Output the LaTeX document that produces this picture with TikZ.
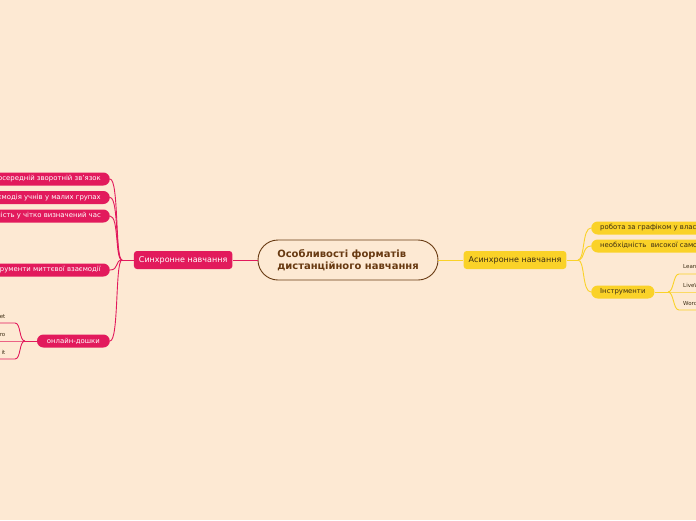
\documentclass[tikz,border=0pt]{standalone}
\usepackage{fontspec}
\setmainfont{DejaVu Sans}
\usetikzlibrary{positioning}
\definecolor{bgpeach}{RGB}{253,233,211}
\definecolor{synccol}{RGB}{226,26,92}
\definecolor{asynccol}{RGB}{250,210,40}
\definecolor{titlecol}{RGB}{104,58,18}
\definecolor{darktxt}{RGB}{60,45,20}
\begin{document}
\begin{tikzpicture}[
  x=1pt, y=-1pt,
  font=\fontsize{6.9}{7.5}\selectfont,
  node distance=25pt,
  title/.style={draw=titlecol, line width=0.9pt, fill=bgpeach,
                rounded corners=20pt, minimum width=180pt, minimum height=40pt,
                align=left, text=titlecol,
                font=\fontsize{10}{12}\selectfont\bfseries},
  mainbox/.style={rounded corners=3pt, minimum height=18pt, inner xsep=5pt,
                  font=\fontsize{8}{9}\selectfont},
  syncbox/.style={mainbox, fill=synccol, text=white},
  asyncbox/.style={mainbox, fill=asynccol, text=darktxt},
  pill/.style={rounded corners=6.5pt, minimum height=13pt, inner xsep=9pt,
               inner ysep=0pt},
  spill/.style={pill, fill=synccol, text=white},
  apill/.style={pill, fill=asynccol, text=darktxt},
  leaf/.style={inner xsep=4pt, inner ysep=4.5pt, text=darktxt,
               font=\fontsize{5.5}{6.5}\selectfont},
  slink/.style={draw=synccol, line width=0.9pt},
  alink/.style={draw=asynccol, line width=0.9pt}
]
\useasboundingbox[fill=bgpeach] (0,0) rectangle (696,520);
\clip (0,0) rectangle (696,520);

% centre and the two main branches
\node[title] (title) at (348,260) {Особливості форматів\\дистанційного навчання};
\node[syncbox, left=of title] (sync) {Синхронне навчання};
\node[asyncbox, right=of title] (async) {Асинхронне навчання};
\draw[slink] (title) -- (sync);
\draw[alink] (title) -- (async);

% synchronous side
\coordinate (sj) at (122,260);
\node[spill, anchor=east] (feedback) at (110,179) {Безпосередній зворотній зв'язок};
\node[spill, anchor=east] (groups) at (110,197.5) {Взаємодія учнів у малих групах};
\node[spill, anchor=east] (ontime) at (110,216) {Присутність у чітко визначений час};
\node[spill, anchor=east] (instant) at (110,270) {Інструменти миттєвої взаємодії};
\node[spill, anchor=east, inner xsep=10pt] (boards) at (110,341) {онлайн-дошки};
\draw[slink] (sync.west) -- (sj);
\foreach \n in {feedback,groups,ontime,instant,boards}
  \draw[slink] (sj) .. controls +(-7,0) and +(9,0) .. (\n.east);

\coordinate (bj) at (25,341);
\node[leaf, anchor=south east, inner xsep=9.5pt] (padlet) at (15,323) {Padlet};
\node[leaf, anchor=south east, inner xsep=9.5pt] (miro) at (15,341) {Miro};
\node[leaf, anchor=south east, inner xsep=9.5pt] (lino) at (15,359) {Lino it};
\draw[slink] (boards.west) -- (bj);
\foreach \n in {padlet,miro,lino}
  \draw[slink] (bj) .. controls +(-6,0) and +(6,0) .. (\n.south east) -- (\n.south west);

% asynchronous side
\coordinate (aj) at (578,260);
\node[apill, anchor=west] (schedule) at (591,228) {робота за графіком у власному темпі};
\node[apill, anchor=west] (selforg) at (591,246) {необхідність\ \ високої самоорганізації};
\node[apill, anchor=west] (instr) at (591,292) {Інструменти};
\draw[alink] (async.east) -- (aj);
\foreach \n in {schedule,selforg,instr}
  \draw[alink] (aj) .. controls +(7,0) and +(-9,0) .. (\n.west);

\coordinate (ij) at (668,292);
\node[leaf, anchor=south west] (apps) at (679,274) {LearningApps};
\node[leaf, anchor=south west] (live) at (679,292) {LiveWorksheets};
\node[leaf, anchor=south west] (wall) at (679,310) {Wordwall};
\draw[alink] (instr.east) -- (ij);
\foreach \n in {apps,live,wall}
  \draw[alink] (ij) .. controls +(6,0) and +(-6,0) .. (\n.south west) -- (\n.south east);
\end{tikzpicture}
\end{document}
